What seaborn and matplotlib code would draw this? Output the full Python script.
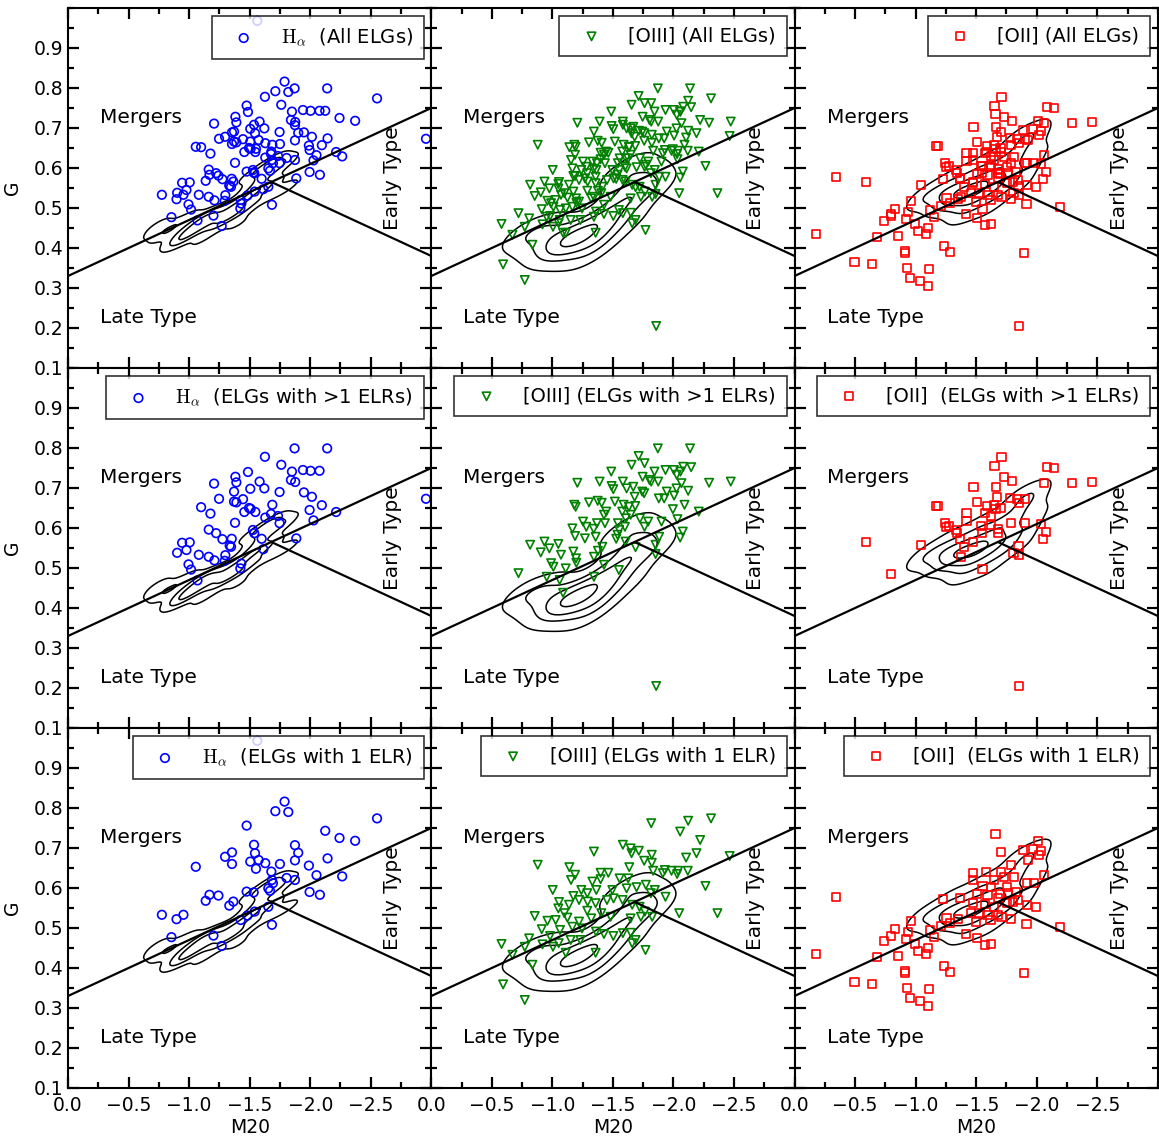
import numpy as np
import matplotlib
matplotlib.use("Agg")
import matplotlib.pyplot as plt
from matplotlib.ticker import MultipleLocator
import seaborn as sns

# H-alpha, ELGs with >1 ELRs
ha_multi_m20 = [-1.871, -2.140, -1.626, -1.761, -1.849, -1.940, -2.003, -2.077, -1.486, -1.382,
                -1.390, -1.206, -1.582, -1.621, -1.505, -1.841, -1.876, -1.247, -1.371, -1.747,
                -1.948, -2.014, -1.099, -1.176, -1.371, -1.390, -1.445, -1.495, -1.508, -1.456,
                -1.547, -1.687, -1.995, -2.096, -2.214, -2.027, -1.629, -1.676, -1.734, -1.747,
                -1.379, -1.162, -1.223, -1.275, -1.352, -1.335, -1.346, -0.942, -1.005, -1.527,
                -1.538, -1.599, -1.885, -0.901, -0.978, -1.080, -1.162, -1.209, -1.299, -1.294,
                -1.613, -0.995, -1.016, -1.431, -1.423, -1.069, -2.956]
ha_multi_g = [0.799, 0.799, 0.778, 0.758, 0.741, 0.745, 0.743, 0.743, 0.740, 0.728,
              0.714, 0.711, 0.716, 0.699, 0.698, 0.720, 0.715, 0.673, 0.691, 0.690,
              0.689, 0.678, 0.652, 0.636, 0.666, 0.664, 0.672, 0.650, 0.648, 0.640,
              0.640, 0.658, 0.645, 0.657, 0.640, 0.619, 0.626, 0.635, 0.630, 0.612,
              0.613, 0.596, 0.587, 0.572, 0.573, 0.556, 0.553, 0.563, 0.564, 0.595,
              0.587, 0.573, 0.574, 0.538, 0.545, 0.533, 0.528, 0.519, 0.532, 0.518,
              0.547, 0.509, 0.496, 0.511, 0.499, 0.469, 0.673]

# H-alpha, ELGs with 1 ELR
ha_single_m20 = [-1.563, -1.788, -1.712, -1.819, -2.552, -1.475, -2.124, -2.242, -2.371, -1.536,
                 -1.874, -1.901, -1.544, -1.354, -1.297, -1.354, -1.055, -1.505, -1.574, -1.629,
                 -1.552, -1.679, -1.750, -1.874, -1.989, -2.143, -2.052, -2.264, -1.684, -1.805,
                 -1.874, -1.654, -1.692, -1.668, -1.475, -1.533, -1.995, -2.080, -1.168, -1.242,
                 -1.137, -1.365, -1.332, -1.481, -1.541, -1.654, -0.775, -0.896, -0.953, -0.854,
                 -1.201, -1.269, -1.426, -1.684]
ha_single_g = [0.968, 0.816, 0.792, 0.790, 0.774, 0.756, 0.743, 0.725, 0.718, 0.708,
               0.707, 0.688, 0.687, 0.689, 0.678, 0.660, 0.653, 0.666, 0.670, 0.662,
               0.648, 0.641, 0.660, 0.669, 0.656, 0.674, 0.632, 0.629, 0.620, 0.625,
               0.620, 0.599, 0.612, 0.593, 0.591, 0.589, 0.590, 0.583, 0.583, 0.581,
               0.568, 0.566, 0.556, 0.531, 0.541, 0.553, 0.533, 0.522, 0.533, 0.477,
               0.481, 0.455, 0.520, 0.508]

# [OIII], ELGs with >1 ELRs
o3_multi_m20 = [-1.871, -2.137, -1.712, -1.761, -1.654, -1.745, -1.486, -1.206, -1.390, -1.582,
                -1.489, -1.503, -1.668, -1.613, -1.843, -1.934, -2.003, -2.080, -2.146, -2.058,
                -2.027, -1.802, -1.874, -1.816, -2.066, -2.025, -2.121, -1.945, -2.294, -2.473,
                -1.742, -1.758, -1.679, -1.879, -1.923, -2.005, -2.091, -1.995, -2.209, -1.181,
                -1.192, -1.302, -1.374, -1.407, -1.516, -1.588, -1.632, -1.684, -1.445, -1.426,
                -1.577, -1.646, -1.607, -1.253, -1.280, -1.368, -1.341, -1.165, -1.187, -1.269,
                -1.357, -1.434, -1.541, -1.599, -1.552, -1.723, -1.791, -1.901, -2.033, -2.077,
                -2.055, -1.882, -1.761, -1.538, -1.604, -1.527, -0.816, -0.904, -0.934, -0.975,
                -1.049, -1.071, -1.173, -1.195, -0.989, -1.008, -1.110, -1.198, -1.343, -1.412,
                -1.376, -1.426, -1.549, -1.687, -1.852, -1.852, -0.720, -0.953, -1.060, -1.088,
                -1.343, -1.857]
o3_multi_g = [0.799, 0.799, 0.780, 0.762, 0.758, 0.728, 0.741, 0.713, 0.716, 0.716,
              0.705, 0.697, 0.703, 0.699, 0.741, 0.745, 0.745, 0.753, 0.752, 0.741,
              0.733, 0.720, 0.716, 0.716, 0.712, 0.699, 0.693, 0.691, 0.713, 0.716,
              0.691, 0.687, 0.678, 0.674, 0.674, 0.681, 0.658, 0.647, 0.641, 0.658,
              0.653, 0.664, 0.668, 0.663, 0.666, 0.658, 0.653, 0.655, 0.641, 0.633,
              0.641, 0.633, 0.624, 0.616, 0.603, 0.612, 0.598, 0.599, 0.580, 0.574,
              0.578, 0.612, 0.612, 0.603, 0.595, 0.624, 0.616, 0.616, 0.622, 0.591,
              0.576, 0.578, 0.603, 0.583, 0.566, 0.573, 0.558, 0.539, 0.566, 0.549,
              0.560, 0.533, 0.541, 0.524, 0.512, 0.503, 0.499, 0.513, 0.528, 0.553,
              0.543, 0.508, 0.495, 0.552, 0.558, 0.535, 0.487, 0.478, 0.470, 0.438,
              0.478, 0.205]

# [OIII], ELGs with 1 ELR
o3_single_m20 = [-2.310, -2.121, -1.816, -2.055, -2.220, -1.582, -1.646, -1.714, -1.343, -1.654,
                 -1.821, -2.190, -2.104, -2.464, -0.879, -1.758, -1.821, -1.140, -1.187, -1.154,
                 -1.635, -1.398, -1.462, -1.832, -1.929, -1.984, -2.038, -2.118, -1.912, -2.030,
                 -1.626, -1.555, -1.398, -1.330, -2.264, -1.003, -1.239, -1.288, -1.363, -1.495,
                 -1.613, -1.695, -1.772, -1.846, -1.813, -1.934, -1.173, -1.220, -1.055, -1.137,
                 -1.049, -1.099, -1.291, -1.357, -1.451, -1.505, -1.580, -1.659, -1.720, -1.764,
                 -1.824, -2.047, -2.363, -0.854, -1.027, -1.124, -1.220, -1.321, -1.404, -1.481,
                 -1.646, -1.731, -0.912, -0.808, -0.981, -1.063, -1.165, -1.245, -1.360, -1.426,
                 -1.503, -1.582, -1.648, -1.687, -1.769, -0.580, -0.670, -0.772, -0.918, -1.052,
                 -1.151, -1.005, -1.231, -1.110, -1.357, -1.659, -0.835, -0.593, -0.772, -0.959,
                 -1.288]
o3_single_g = [0.774, 0.768, 0.762, 0.741, 0.720, 0.708, 0.699, 0.693, 0.691, 0.687,
               0.683, 0.687, 0.676, 0.680, 0.658, 0.668, 0.663, 0.652, 0.633, 0.620,
               0.652, 0.638, 0.638, 0.643, 0.645, 0.643, 0.643, 0.643, 0.637, 0.635,
               0.624, 0.624, 0.622, 0.616, 0.605, 0.595, 0.595, 0.587, 0.595, 0.595,
               0.599, 0.602, 0.608, 0.595, 0.587, 0.578, 0.580, 0.570, 0.565, 0.558,
               0.549, 0.537, 0.566, 0.562, 0.570, 0.574, 0.570, 0.558, 0.553, 0.541,
               0.528, 0.537, 0.537, 0.530, 0.520, 0.526, 0.516, 0.524, 0.537, 0.528,
               0.524, 0.528, 0.497, 0.474, 0.480, 0.495, 0.503, 0.499, 0.491, 0.485,
               0.480, 0.487, 0.488, 0.470, 0.445, 0.460, 0.433, 0.453, 0.459, 0.462,
               0.470, 0.453, 0.470, 0.438, 0.438, 0.462, 0.408, 0.359, 0.320, 0.518,
               0.543]

# [OII], ELGs with >1 ELRs
o2_multi_m20 = [-1.709, -1.651, -2.082, -2.143, -1.731, -1.799, -1.478, -1.662, -2.063, -2.291,
                -2.453, -1.670, -1.780, -1.835, -1.904, -1.857, -1.508, -1.588, -1.648, -1.659,
                -1.701, -1.165, -1.181, -1.420, -1.574, -1.621, -1.420, -1.245, -1.250, -1.272,
                -1.332, -1.341, -1.538, -1.621, -1.681, -1.786, -1.901, -2.033, -2.074, -2.055,
                -1.368, -1.470, -1.681, -1.549, -1.401, -1.374, -1.849, -1.808, -1.854, -1.552,
                -0.588, -1.044, -0.794, -1.857]
o2_multi_g = [0.777, 0.755, 0.752, 0.749, 0.727, 0.718, 0.703, 0.702, 0.712, 0.712,
              0.716, 0.677, 0.676, 0.672, 0.672, 0.662, 0.664, 0.656, 0.658, 0.648,
              0.649, 0.655, 0.655, 0.637, 0.637, 0.630, 0.618, 0.612, 0.603, 0.606,
              0.595, 0.587, 0.605, 0.608, 0.598, 0.613, 0.613, 0.610, 0.589, 0.573,
              0.572, 0.566, 0.587, 0.587, 0.552, 0.527, 0.556, 0.538, 0.533, 0.497,
              0.566, 0.558, 0.484, 0.205]

# [OII], ELGs with 1 ELR
o2_single_m20 = [-1.659, -2.008, -1.706, -1.885, -1.967, -2.038, -1.929, -2.022, -1.786, -1.475,
                 -1.580, -1.703, -1.475, -1.648, -1.731, -1.813, -1.918, -1.978, -2.060, -1.552,
                 -1.621, -1.695, -1.753, -1.766, -1.832, -1.503, -1.593, -1.681, -1.368, -1.223,
                 -1.475, -1.574, -1.648, -1.758, -1.802, -1.846, -1.923, -1.992, -1.456, -1.527,
                 -1.593, -1.679, -1.786, -1.709, -1.255, -1.346, -1.280, -1.209, -1.497, -1.618,
                 -1.915, -2.192, -1.121, -1.148, -1.412, -1.505, -1.571, -1.621, -0.959, -0.827,
                 -0.937, -0.797, -0.736, -0.918, -0.995, -1.022, -1.099, -1.085, -0.857, -0.684,
                 -0.179, -0.343, -1.236, -1.286, -1.896, -0.909, -0.915, -0.495, -0.637, -0.931,
                 -1.110, -0.951, -1.036, -1.104]
o2_single_g = [0.734, 0.718, 0.691, 0.695, 0.697, 0.693, 0.670, 0.683, 0.658, 0.637,
               0.641, 0.641, 0.620, 0.620, 0.628, 0.628, 0.612, 0.612, 0.633, 0.605,
               0.602, 0.585, 0.602, 0.587, 0.591, 0.585, 0.583, 0.574, 0.576, 0.573,
               0.562, 0.560, 0.553, 0.562, 0.564, 0.570, 0.558, 0.552, 0.537, 0.537,
               0.533, 0.533, 0.522, 0.528, 0.524, 0.523, 0.513, 0.505, 0.516, 0.520,
               0.509, 0.503, 0.495, 0.478, 0.484, 0.474, 0.458, 0.459, 0.518, 0.498,
               0.491, 0.480, 0.467, 0.473, 0.460, 0.443, 0.451, 0.435, 0.430, 0.428,
               0.435, 0.578, 0.406, 0.389, 0.388, 0.393, 0.388, 0.366, 0.359, 0.349,
               0.348, 0.326, 0.317, 0.306]

# comparison samples drawn as density contours (one per column)
ha_ref_m20 = [-0.72, -0.78, -0.85, -0.88, -0.95, -1.00, -1.05, -1.10, -1.12, -1.18,
              -1.20, -1.25, -1.28, -1.32, -1.38, -1.42, -1.45, -1.48, -1.52, -1.55,
              -1.58, -1.62, -1.65, -1.68, -1.70, -1.72, -1.75, -1.60, -0.75, -0.90,
              -1.10, -1.40, -1.80, -1.80, -1.50, -1.00]
ha_ref_g = [0.44, 0.43, 0.45, 0.42, 0.44, 0.43, 0.46, 0.45, 0.48, 0.47,
            0.49, 0.46, 0.47, 0.50, 0.49, 0.51, 0.49, 0.53, 0.55, 0.52,
            0.57, 0.59, 0.61, 0.56, 0.62, 0.54, 0.60, 0.55, 0.46, 0.41,
            0.42, 0.46, 0.55, 0.62, 0.58, 0.48]
o3_ref_m20 = [-0.78, -0.85, -0.90, -0.95, -1.00, -1.02, -1.05, -1.08, -1.10, -1.12,
              -1.15, -1.18, -1.20, -1.22, -1.25, -1.28, -1.30, -1.32, -1.35, -1.38,
              -1.40, -1.45, -1.48, -1.50, -1.55, -1.58, -1.62, -1.65, -1.70, -1.75,
              -1.78, -1.45, -1.15, -0.95, -1.60, -1.70, -1.80, -1.85, -1.55, -1.65,
              -1.30, -0.75]
o3_ref_g = [0.43, 0.41, 0.44, 0.40, 0.42, 0.39, 0.44, 0.41, 0.43, 0.40,
            0.42, 0.44, 0.41, 0.43, 0.45, 0.42, 0.44, 0.40, 0.46, 0.43,
            0.48, 0.45, 0.50, 0.47, 0.52, 0.49, 0.55, 0.52, 0.57, 0.53,
            0.58, 0.42, 0.38, 0.45, 0.60, 0.60, 0.56, 0.55, 0.58, 0.47,
            0.38, 0.44]
o2_ref_m20 = [-1.18, -1.22, -1.25, -1.28, -1.30, -1.33, -1.35, -1.38, -1.40, -1.42,
              -1.45, -1.48, -1.50, -1.52, -1.55, -1.58, -1.60, -1.62, -1.65, -1.68,
              -1.70, -1.72, -1.75, -1.78, -1.82, -1.85, -1.88, -1.92, -1.95, -1.40,
              -1.60, -1.30, -1.05, -1.10, -1.40, -1.60, -2.00, -2.00, -1.85, -1.50]
o2_ref_g = [0.53, 0.51, 0.54, 0.52, 0.55, 0.53, 0.51, 0.55, 0.53, 0.56,
            0.54, 0.52, 0.56, 0.54, 0.57, 0.55, 0.53, 0.58, 0.56, 0.60,
            0.57, 0.54, 0.61, 0.58, 0.63, 0.56, 0.66, 0.60, 0.67, 0.50,
            0.62, 0.58, 0.52, 0.54, 0.48, 0.50, 0.64, 0.70, 0.68, 0.60]

# Lotz et al. dividing lines
merger_slope, merger_icpt = -0.14, 0.33
early_slope, early_icpt = 0.14, 0.80
m20_cross = -1.68

row_labels = [
    [r"$\mathrm{H}_\alpha$  (All ELGs)", "[OIII] (All ELGs)", "[OII] (All ELGs)"],
    [r"$\mathrm{H}_\alpha$  (ELGs with >1 ELRs)", "[OIII] (ELGs with >1 ELRs)", "[OII]  (ELGs with >1 ELRs)"],
    [r"$\mathrm{H}_\alpha$  (ELGs with 1 ELR)", "[OIII] (ELGs with 1 ELR)", "[OII]  (ELGs with 1 ELR)"],
]

sns.set_style("ticks")
plt.rcParams["font.family"] = ["DejaVu Sans"]
plt.rcParams["mathtext.fontset"] = "cm"
for key in ["text.color", "axes.labelcolor", "xtick.color", "ytick.color"]:
    plt.rcParams[key] = "black"

columns = [
    dict(multi=(ha_multi_m20, ha_multi_g), single=(ha_single_m20, ha_single_g),
         ref=(ha_ref_m20, ha_ref_g), marker="o", color="blue", s=38, bw=0.6, levels=[0.15, 0.5, 0.8]),
    dict(multi=(o3_multi_m20, o3_multi_g), single=(o3_single_m20, o3_single_g),
         ref=(o3_ref_m20, o3_ref_g), marker="v", color="green", s=36, bw=0.9, levels=[0.08, 0.35, 0.65, 0.9]),
    dict(multi=(o2_multi_m20, o2_multi_g), single=(o2_single_m20, o2_single_g),
         ref=(o2_ref_m20, o2_ref_g), marker="s", color="red", s=34, bw=0.85, levels=[0.08, 0.35, 0.65, 0.9]),
]

fig, axes = plt.subplots(3, 3, figsize=(11.59, 11.42), dpi=100, sharex=True, sharey=True)
fig.subplots_adjust(left=0.0587, right=0.999, top=0.993, bottom=0.0473, wspace=0, hspace=0)

xline = np.array([0.0, -3.0])
xearly = np.array([m20_cross, -3.0])

for c, col in enumerate(columns):
    for r in range(3):
        ax = axes[r, c]
        if r == 0:
            xs = list(col["multi"][0]) + list(col["single"][0])
            ys = list(col["multi"][1]) + list(col["single"][1])
        elif r == 1:
            xs, ys = col["multi"]
        else:
            xs, ys = col["single"]

        sns.kdeplot(x=col["ref"][0], y=col["ref"][1], levels=col["levels"], bw_adjust=col["bw"],
                    color="k", linewidths=1.1, ax=ax)
        sns.scatterplot(x=xs, y=ys, ax=ax, marker=col["marker"], s=col["s"],
                        facecolors="none", edgecolor=col["color"], linewidth=1.2,
                        label=row_labels[r][c], zorder=3)

        ax.plot(xline, merger_slope * xline + merger_icpt, color="k", lw=1.6, zorder=4)
        ax.plot(xearly, early_slope * xearly + early_icpt, color="k", lw=1.6, zorder=4)

        ax.text(-0.265, 0.725, "Mergers", fontsize=14.5, ha="left", va="center")
        ax.text(-0.265, 0.225, "Late Type", fontsize=14.5, ha="left", va="center")
        ax.text(-2.68, 0.575, "Early Type", fontsize=14.5, ha="center", va="center", rotation=90)

        ax.set_xlim(0.0, -3.0)
        ax.set_ylim(0.1, 1.0)
        ax.set_xticks([0.0, -0.5, -1.0, -1.5, -2.0, -2.5])
        ax.set_yticks([0.1, 0.2, 0.3, 0.4, 0.5, 0.6, 0.7, 0.8, 0.9])
        ax.xaxis.set_minor_locator(MultipleLocator(0.25))
        ax.yaxis.set_minor_locator(MultipleLocator(0.05))
        ax.tick_params(which="both", direction="in", top=True, right=True, width=1.6,
                       labelsize=13.5, colors="black")
        ax.tick_params(axis="x", pad=6)
        ax.tick_params(which="major", length=8)
        ax.tick_params(which="minor", length=4)
        for sp in ax.spines.values():
            sp.set_linewidth(1.5)
            sp.set_color("k")

        ax.set_xlabel("M20" if r == 2 else "", fontsize=13.5, labelpad=2)
        ax.set_ylabel("G" if c == 0 else "", fontsize=13.5, labelpad=8)

        leg = ax.legend(loc="upper right", scatterpoints=1, fontsize=14, frameon=True,
                        fancybox=False, borderaxespad=0.4, borderpad=0.55,
                        handlelength=2.2, handletextpad=0.8)
        leg.get_frame().set_edgecolor("k")
        leg.get_frame().set_linewidth(1.2)

fig.savefig("out.png", dpi=100)
